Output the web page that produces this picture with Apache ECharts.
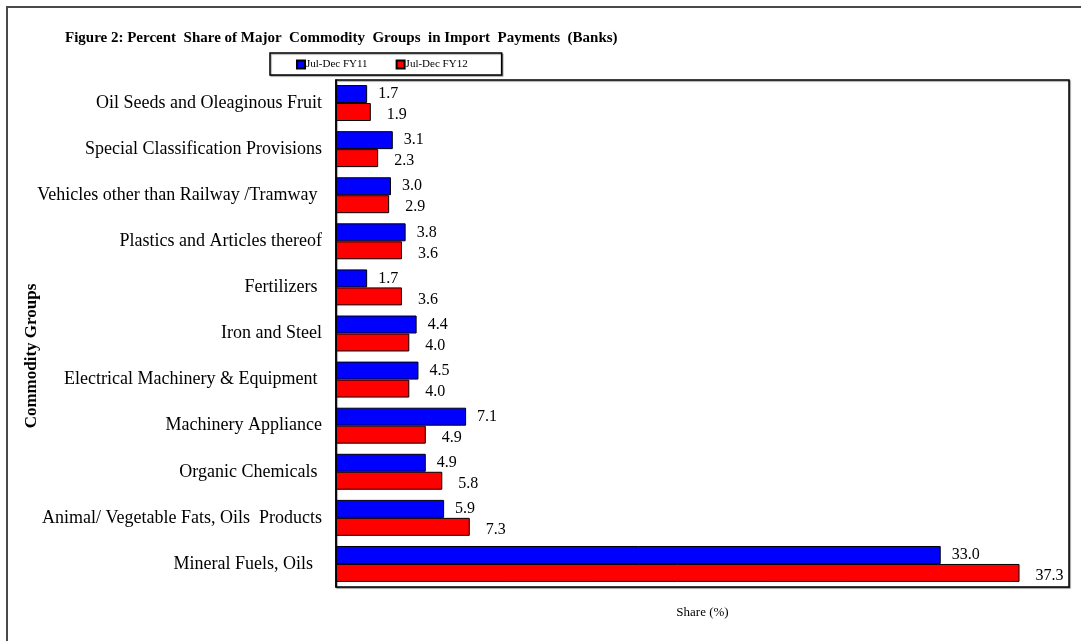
<!DOCTYPE html>
<html>
<head>
<meta charset="utf-8">
<script src="https://cdn.jsdelivr.net/npm/echarts@6/dist/echarts.min.js"></script>
<style>
html,body{margin:0;padding:0;background:#fff;}
#main{width:1081px;height:641px;}
</style>
</head>
<body>
<div id="main"></div>
<script>
const categories = [
  "Oil Seeds and Oleaginous Fruit",
  "Special Classification Provisions",
  "Vehicles other than Railway /Tramway ",
  "Plastics and Articles thereof",
  "Fertilizers ",
  "Iron and Steel",
  "Electrical Machinery & Equipment ",
  "Machinery Appliance",
  "Organic Chemicals ",
  "Animal/ Vegetable Fats, Oils  Products",
  "Mineral Fuels, Oils  "
];
const fy11 = [1.7, 3.1, 3.0, 3.8, 1.7, 4.4, 4.5, 7.1, 4.9, 5.9, 33.0];
const fy12 = [1.9, 2.3, 2.9, 3.6, 3.6, 4.0, 4.0, 4.9, 5.8, 7.3, 37.3];
const seriesNames = ["Jul-Dec FY11", "Jul-Dec FY12"];

const font = "'Liberation Serif', 'Times New Roman', serif";
const chart = echarts.init(document.getElementById('main'));
chart.setOption({
  animation: false,
  textStyle: { fontFamily: font, color: '#000' },
  graphic: [{
    type: 'rect',
    shape: { x: 7, y: 7, width: 1100, height: 700 },
    style: { fill: 'none', stroke: '#4a4a4a', lineWidth: 2 },
    silent: true
  }, {
    type: 'text',
    x: 32, y: 356, rotation: Math.PI / 2,
    style: {
      text: 'Commodity Groups', fontFamily: font, fontSize: 17, fontWeight: 'bold',
      fill: '#000', align: 'center', verticalAlign: 'middle'
    },
    silent: true
  }],
  title: {
    text: 'Figure 2: Percent  Share of Major  Commodity  Groups  in Import  Payments  (Banks)',
    left: 60, top: 26,
    textStyle: { fontFamily: font, fontSize: 15, fontWeight: 'bold', color: '#000' }
  },
  legend: {
    left: 270, top: 53,
    padding: [6, 34, 5, 26],
    itemGap: 28,
    itemWidth: 8, itemHeight: 8,
    icon: 'rect',
    borderColor: '#000', borderWidth: 1.5,
    shadowColor: 'rgba(0,0,0,0.35)', shadowOffsetX: 1, shadowOffsetY: 1, shadowBlur: 1,
    backgroundColor: '#fff',
    textStyle: { fontFamily: font, fontSize: 11, color: '#000', padding: [0, 0, 0, -4] },
    data: seriesNames
  },
  grid: {
    left: 336, top: 80, width: 733, height: 507,
    show: true, borderColor: '#000', borderWidth: 1.5,
    shadowColor: 'rgba(0,0,0,0.4)', shadowOffsetX: 1, shadowOffsetY: 1, shadowBlur: 1,
    backgroundColor: '#fff'
  },
  xAxis: {
    type: 'value', min: 0, max: 40,
    name: 'Share (%)', nameLocation: 'middle', nameGap: 19,
    nameTextStyle: { fontFamily: font, fontSize: 13, color: '#000' },
    axisLabel: { show: false }, axisTick: { show: false },
    axisLine: { show: false }, splitLine: { show: false }
  },
  yAxis: {
    type: 'category', inverse: true, data: categories,
    axisLine: { show: true, lineStyle: { color: '#000', width: 1.5 } },
    axisTick: { show: false },
    axisLabel: { fontFamily: font, fontSize: 18, color: '#000', margin: 14 },
    splitLine: { show: false }
  },
  series: [
    {
      name: seriesNames[0], type: 'bar', data: fy11,
      barGap: '0%', barCategoryGap: '22%',
      itemStyle: { color: '#0000ff', borderColor: '#000', borderWidth: 1 },
      label: { show: true, position: 'right', distance: 11, fontFamily: font, fontSize: 16, color: '#000',
        formatter: p => p.value.toFixed(1) }
    },
    {
      name: seriesNames[1], type: 'bar', data: fy12,
      barGap: '0%', barCategoryGap: '22%',
      itemStyle: { color: '#ff0000', borderColor: '#000', borderWidth: 1 },
      label: { show: true, position: 'right', distance: 16, offset: [0, 3], fontFamily: font, fontSize: 16, color: '#000',
        formatter: p => p.value.toFixed(1) }
    }
  ]
});
</script>
</body>
</html>
